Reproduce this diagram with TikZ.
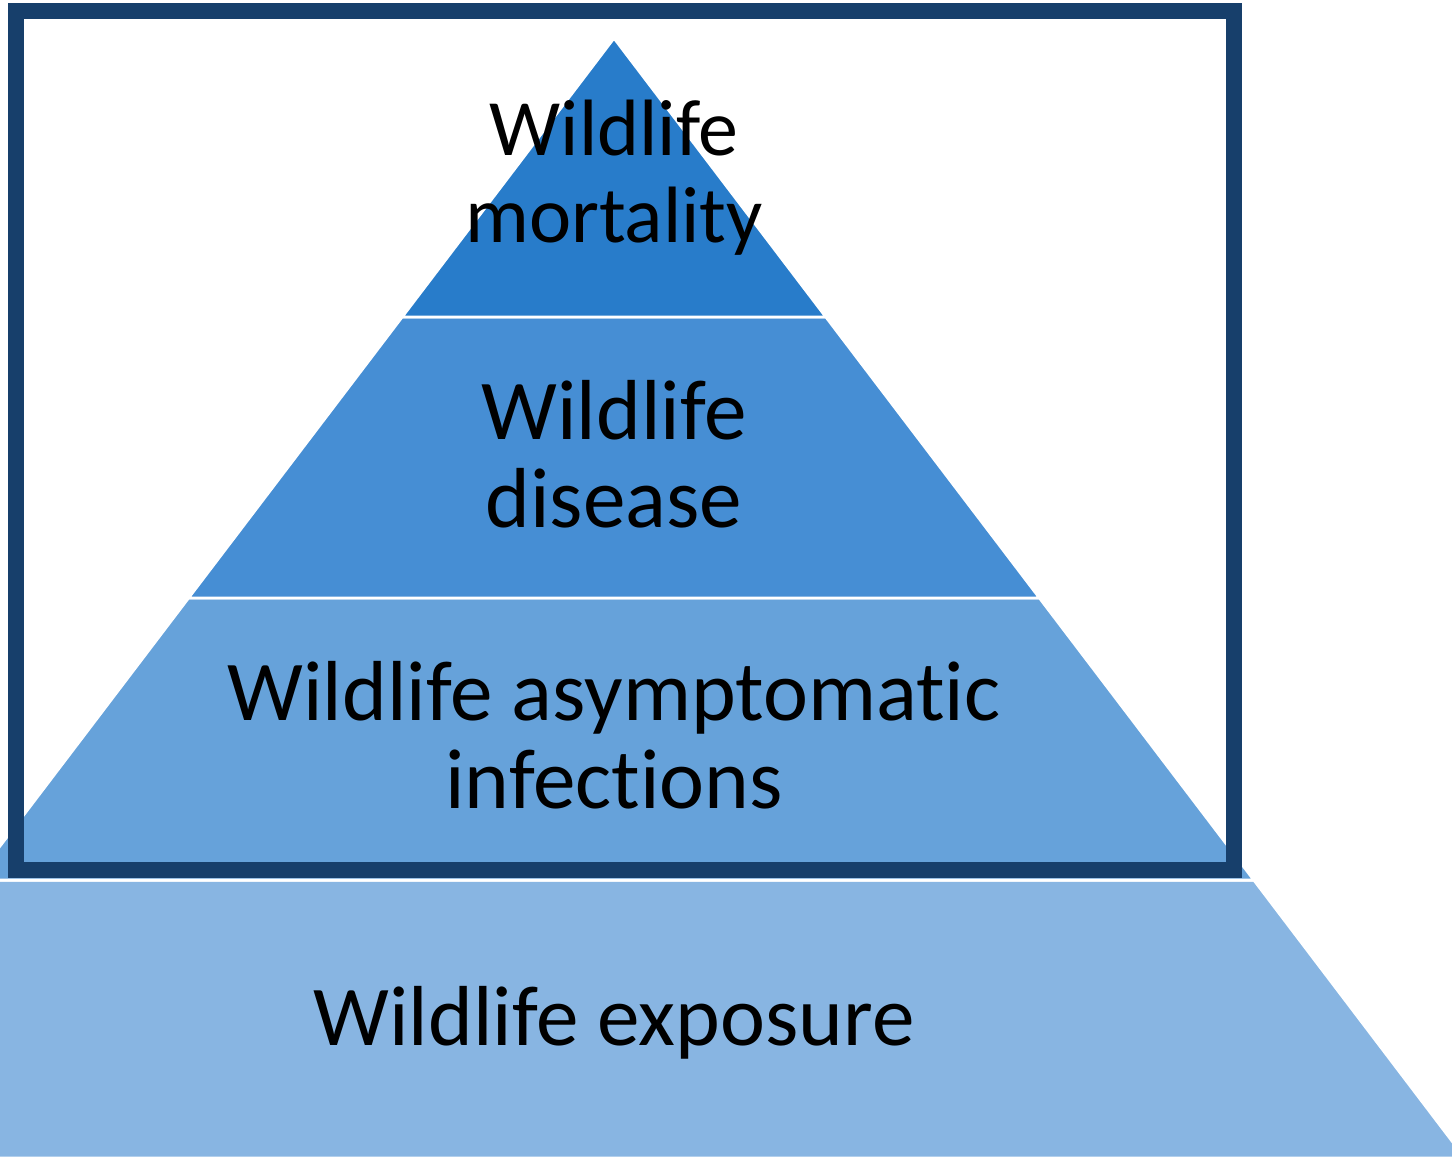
\documentclass[tikz,border=0pt]{standalone}
\usepackage{fontspec}
\setmainfont{Carlito}[Ligatures=NoCommon]
\definecolor{tierTop}{HTML}{287CCA}
\definecolor{tierTwo}{HTML}{468ED4}
\definecolor{tierThree}{HTML}{66A2DA}
\definecolor{tierBase}{HTML}{88B5E2}
\definecolor{frameNavy}{HTML}{173F6B}
\begin{document}
\begin{tikzpicture}[
  x=0.02cm, y=-0.02cm,
  tier/.style={draw=white, line width=1.7pt},
  lbl/.style={font=\fontsize{48.5}{50}\selectfont, align=center, anchor=base, inner sep=0pt},
]
  \useasboundingbox (0,0) rectangle (1452,1158);

  % pyramid tiers
  \begin{scope}
    \clip (0,0) rectangle (1452,1158);
    \filldraw[tier, fill=tierBase]  (-25.9,880) -- (1253.9,880) -- (1465,1158) -- (-237,1158) -- cycle;
    \filldraw[tier, fill=tierThree] (188.4,598) -- (1039.6,598) -- (1253.9,880) -- (-25.9,880) -- cycle;
    \filldraw[tier, fill=tierTwo]   (402,317) -- (826,317) -- (1039.6,598) -- (188.4,598) -- cycle;
    \filldraw[tier, fill=tierTop]   (614,38) -- (826,317) -- (402,317) -- cycle;
  \end{scope}

  % frame
  \draw[frameNavy, line width=9.1pt] (16,11) rectangle (1234,870);

  % labels (base = last line)
  \node[lbl, font=\fontsize{45.5}{50}\selectfont] (mort) at (614,243) {Wildlife\\mortality};
  \node[lbl] (dis)   at (614,527)  {Wildlife\\disease};
  \node[lbl] (asym)  at (614,808)  {Wildlife asymptomatic\\infections};
  \node[lbl] (expo)  at (614,1045) {Wildlife exposure};
\end{tikzpicture}
\end{document}
